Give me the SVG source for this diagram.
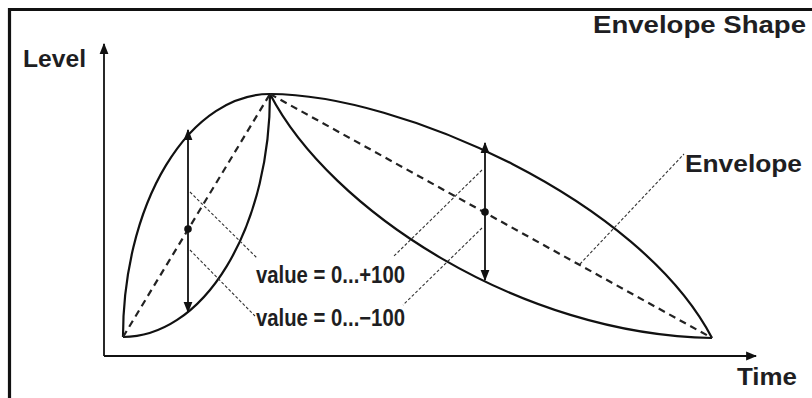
<svg xmlns="http://www.w3.org/2000/svg" width="812" height="398" viewBox="0 0 812 398">
  <style>
    .lbl { font-family: "Liberation Sans", Arial, sans-serif; font-weight: bold; font-size: 23px; fill: #1e1e22; }
    .val { font-family: "Liberation Sans", Arial, sans-serif; font-weight: bold; font-size: 23px; fill: #1e1e22; }
    .curve { fill: none; stroke: #111; stroke-width: 2.2; }
    .env { fill: none; stroke: #222; stroke-width: 2.2; stroke-dasharray: 7 5; }
    .axis { fill: none; stroke: #111; stroke-width: 1.8; }
    .lead { fill: none; stroke: #333; stroke-width: 1.1; stroke-dasharray: 3 2; }
    .dim { fill: none; stroke: #111; stroke-width: 1.8; }
  </style>
  <defs>
    <marker id="arr" viewBox="0 0 10 10" refX="9" refY="5" markerWidth="11" markerHeight="11" markerUnits="userSpaceOnUse" orient="auto-start-reverse">
      <path d="M0,1 L10,5 L0,9 Z" fill="#111"/>
    </marker>
  </defs>
  <rect width="812" height="398" fill="#fff"/>
  <g id="frame">
    <path d="M9.5,400 V9.5 H812" fill="none" stroke="#111" stroke-width="3.2"/>
  </g>
  <g id="axes">
    <path class="axis" d="M104,356 V44" marker-end="url(#arr)"/>
    <path class="axis" d="M104,356 H756" marker-end="url(#arr)"/>
  </g>
  <g id="shapes">
    <path class="curve" d="M123,337 A147,243 0 0 1 270,94"/>
    <path class="curve" d="M123,337 A147,243 0 0 0 270,94"/>
    <path class="curve" d="M270,94 C400,94 640,200 712,338"/>
    <path class="curve" d="M270,94 C330,210 520,335 712,338"/>
    <path class="env" d="M123,337 L270,94"/>
    <path class="env" d="M270,94 L712,338"/>
  </g>
  <g id="connectors">
    <path class="dim" d="M188,229 V130" marker-end="url(#arr)"/>
    <path class="dim" d="M188,229 V312" marker-end="url(#arr)"/>
    <circle cx="188" cy="229" r="3.8" fill="#111"/>
    <path class="dim" d="M485,212 V143" marker-end="url(#arr)"/>
    <path class="dim" d="M485,212 V280" marker-end="url(#arr)"/>
    <circle cx="485" cy="212" r="3.8" fill="#111"/>
    <path class="lead" d="M190,192 L257,258"/>
    <path class="lead" d="M190,250 L255,316"/>
    <path class="lead" d="M482,170 L393,257"/>
    <path class="lead" d="M482,228 L403,305"/>
    <path class="lead" d="M580,264 L684,154"/>
  </g>
  <g id="labels">
    <text class="lbl" x="593" y="33" textLength="213" lengthAdjust="spacingAndGlyphs">Envelope Shape</text>
    <text class="lbl" x="23" y="67" textLength="63" lengthAdjust="spacingAndGlyphs">Level</text>
    <text class="lbl" x="737" y="385" textLength="60" lengthAdjust="spacingAndGlyphs">Time</text>
    <text class="lbl" x="685" y="172" textLength="117" lengthAdjust="spacingAndGlyphs">Envelope</text>
    <text class="val" x="256" y="283" textLength="149" lengthAdjust="spacingAndGlyphs">value = 0...+100</text>
    <text class="val" x="256" y="326" textLength="149" lengthAdjust="spacingAndGlyphs">value = 0...−100</text>
  </g>
</svg>
